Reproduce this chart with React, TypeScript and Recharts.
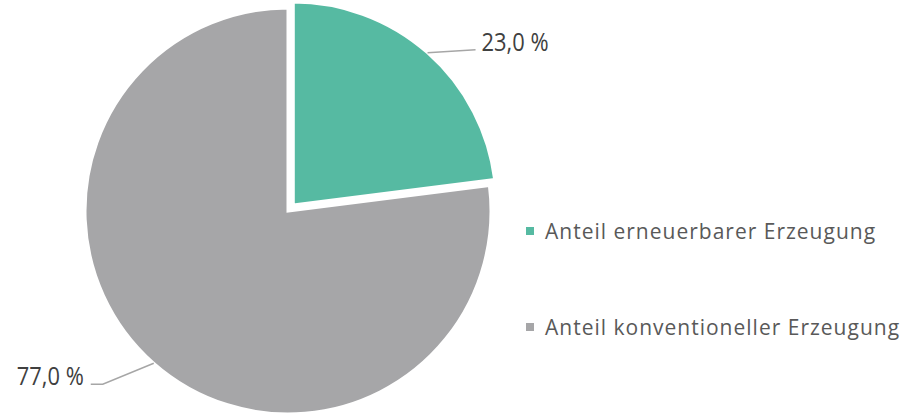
import { PieChart, Pie, Cell, Legend } from "recharts";

const categories = ["Anteil erneuerbarer Erzeugung", "Anteil konventioneller Erzeugung"];
const shares = [23.0, 77.0];
const colors = ["#56BAA2", "#A6A6A8"];

const data = categories.map((name, i) => ({ name, value: shares[i] }));

const RADIAN = Math.PI / 180;
const CX = 288;
const CY = 211;
const R = 203;
const EXPLODE = 8;

// teal slice is pulled out along its bisector
const tealMid = 90 - (shares[0] / 100) * 360 / 2;
const tealCx = CX + EXPLODE * Math.cos(tealMid * RADIAN);
const tealCy = CY - EXPLODE * Math.sin(tealMid * RADIAN);

const fmt = (v: number) => v.toFixed(1).replace(".", ",") + " %";

function makeLabel(only: number) {
  return (props: any) => {
    const { cx, cy, midAngle, outerRadius, index, value } = props;
    if (index !== only) return null;
    const sx = cx + outerRadius * Math.cos(-midAngle * RADIAN);
    const sy = cy + outerRadius * Math.sin(-midAngle * RADIAN);
    const right = Math.cos(-midAngle * RADIAN) >= 0;
    if (right) {
      const ex = sx + 48;
      const ey = sy - 3;
      return (
        <g>
          <polyline points={`${sx},${sy} ${ex},${ey}`} fill="none" stroke="#A6A6A6" strokeWidth={1.5} />
          <text x={ex + 6} y={ey + 1} fill="#404040" fontSize={26} textLength={67} lengthAdjust="spacingAndGlyphs"
            fontFamily="'Open Sans', sans-serif" textAnchor="start">
            {fmt(value)}
          </text>
        </g>
      );
    }
    const mx = sx - 51;
    const my = sy + 21;
    const ex = mx - 12;
    return (
      <g>
        <polyline points={`${sx},${sy} ${mx},${my} ${ex},${my}`} fill="none" stroke="#A6A6A6" strokeWidth={1.5} />
        <text x={ex - 7} y={my + 1} fill="#404040" fontSize={26} textLength={67} lengthAdjust="spacingAndGlyphs"
          fontFamily="'Open Sans', sans-serif" textAnchor="end">
          {fmt(value)}
        </text>
      </g>
    );
  };
}

const renderLegend = () => (
  <div style={{ fontFamily: "'Open Sans', sans-serif", fontSize: 21, letterSpacing: 1, color: "#595959" }}>
    {categories.map((c, i) => (
      <div key={c} style={{ height: 34, lineHeight: "34px", marginBottom: 62, display: "flex", alignItems: "center", whiteSpace: "nowrap" }}>
        <span style={{ display: "inline-block", width: 8, height: 8, background: colors[i], marginRight: 11 }} />
        <span>{c}</span>
      </div>
    ))}
  </div>
);

export default function App() {
  return (
    <div style={{ width: 904, height: 415, background: "#fff" }}>
      <style>{"body{margin:0}"}</style>
      <PieChart width={904} height={415} margin={{ top: 0, right: 0, bottom: 0, left: 0 }}>
        <Pie
          data={data}
          dataKey="value"
          cx={CX}
          cy={CY}
          outerRadius={R}
          startAngle={90}
          endAngle={-270}
          stroke="#fff"
          strokeWidth={3}
          label={makeLabel(1)}
          labelLine={false}
          isAnimationActive={false}
        >
          {data.map((d, i) => (
            <Cell key={d.name} fill={i === 1 ? colors[1] : "none"} stroke={i === 1 ? "#fff" : "none"} />
          ))}
        </Pie>
        <Pie
          data={data}
          dataKey="value"
          cx={tealCx}
          cy={tealCy}
          outerRadius={R}
          startAngle={90}
          endAngle={-270}
          stroke="#fff"
          strokeWidth={3}
          label={makeLabel(0)}
          labelLine={false}
          isAnimationActive={false}
        >
          {data.map((d, i) => (
            <Cell key={d.name} fill={i === 0 ? colors[0] : "none"} stroke={i === 0 ? "#fff" : "none"} />
          ))}
        </Pie>
        <Legend content={renderLegend} wrapperStyle={{ left: 526, top: 214, width: 378 }} />
      </PieChart>
    </div>
  );
}
